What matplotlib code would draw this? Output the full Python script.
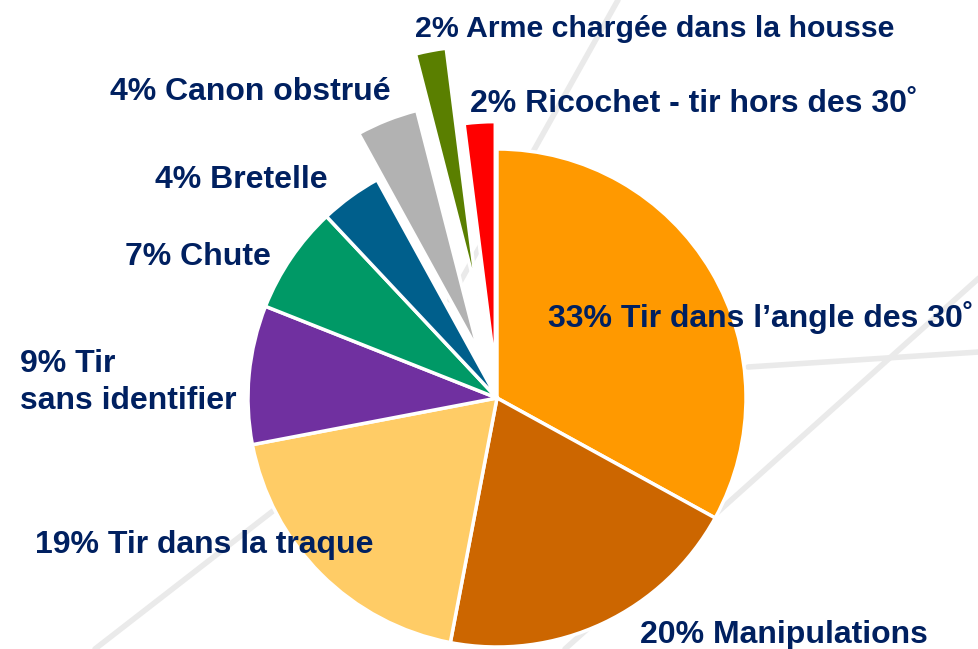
"Accidents de chasse : répartition des causes (camembert)"
import matplotlib.pyplot as plt

plt.rcParams['font.family'] = ['Liberation Sans', 'DejaVu Sans']

causes = ['Tir dans l\u2019angle des 30\u02da', 'Manipulations', 'Tir dans la traque',
          'Tir\nsans identifier', 'Chute', 'Bretelle', 'Canon obstrué',
          'Arme chargée dans la housse', 'Ricochet - tir hors des 30\u02da']
percent = [33, 20, 19, 9, 7, 4, 4, 2, 2]
colors = ['#FF9900', '#CC6600', '#FFCC66', '#7030A0', '#009966', '#005F8C',
          '#B2B2B2', '#5A7F00', '#FF0000']
explode = [0, 0, 0, 0, 0, 0, 0.2, 0.42, 0.11]   # fraction of the radius

# label anchor (left x, baseline y) in pixels from top-left, and font size
label_pos = [(548, 327), (640, 643), (35, 553), (20, 372), (125, 265),
             (155, 188), (110, 100), (415, 37), (470, 112)]
label_size = [23, 23, 23, 23, 23, 23, 23, 21.8, 23]

W, H = 979, 649
R = 249
fig = plt.figure(figsize=(W / 100, H / 100), dpi=100)
ax = fig.add_axes([0, 0, 1, 1])

# faint decorative background strokes
for (x0, y0), (x1, y1) in [((618, 0), (450, 300)), ((748, 367), (979, 352)),
                           ((979, 278), (565, 649)), ((95, 649), (300, 490))]:
    ax.plot([x0, x1], [H - y0, H - y1], color='#EAEAEA', lw=4,
            solid_capstyle='round', zorder=0)

# pie explode is in data units, so scale by the radius
ax.pie(percent, colors=colors, explode=[e * R for e in explode], startangle=90,
       counterclock=False, center=(497, H - 398), radius=R, frame=True,
       wedgeprops=dict(edgecolor='white', linewidth=2.5))
ax.set_xlim(0, W)
ax.set_ylim(0, H)
ax.axis('off')

for v, name, (x, y), fs in zip(percent, causes, label_pos, label_size):
    lines = f'{v}% {name}'.split('\n')
    for i, line in enumerate(lines):
        ax.text(x, H - (y + i * 37), line, ha='left', va='baseline',
                fontsize=fs, fontweight='bold', color='#002060', zorder=5)

plt.savefig('out.png', dpi=100)
